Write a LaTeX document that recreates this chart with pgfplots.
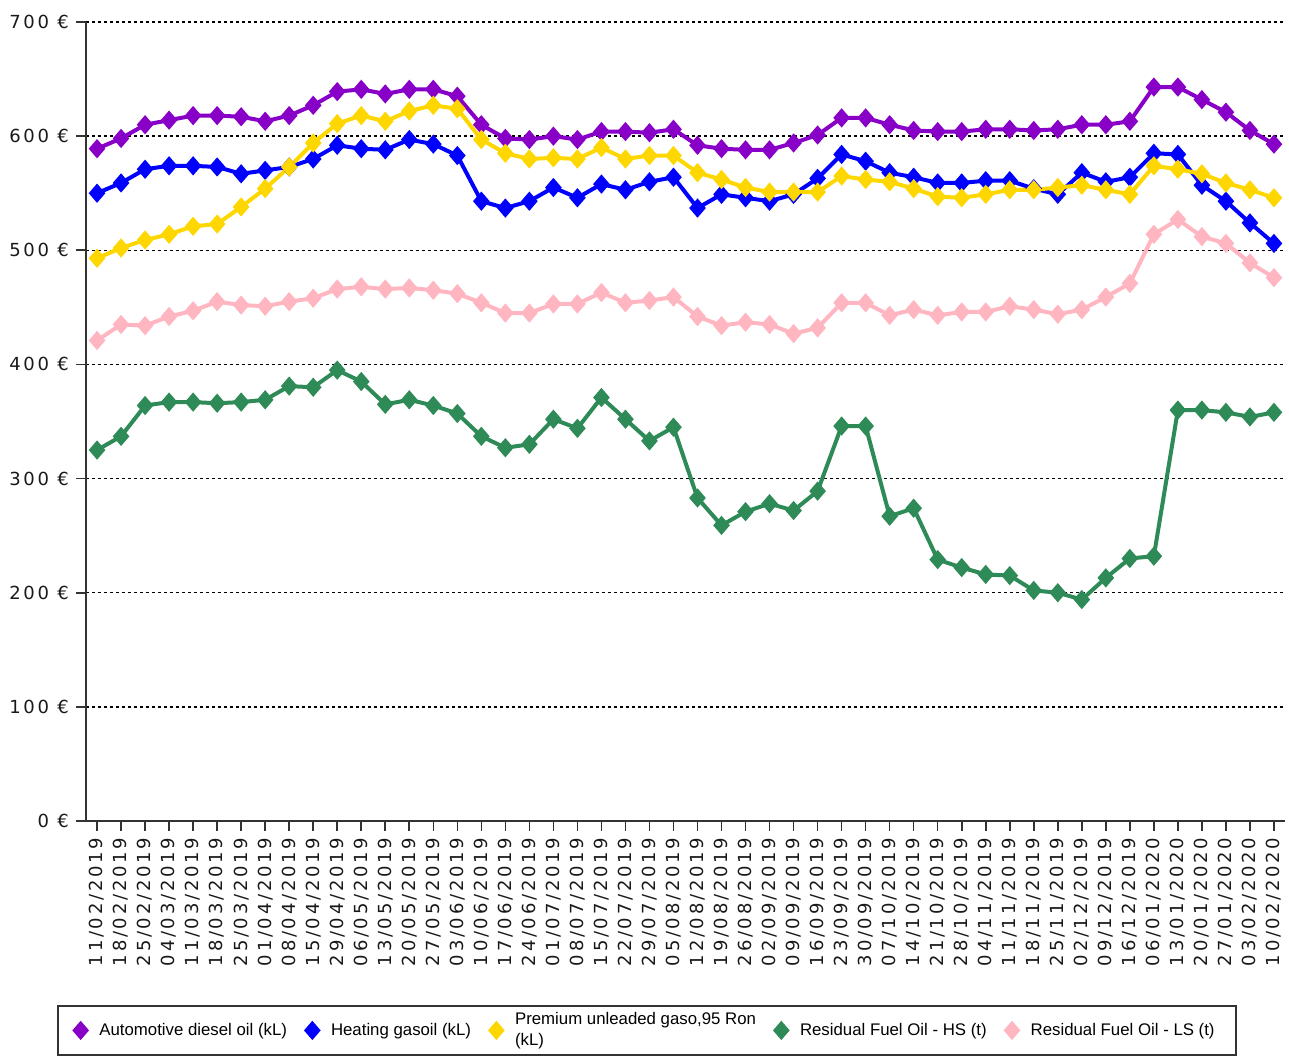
\documentclass[border=0pt]{standalone}
\usepackage{pgfplots}
\usepackage{pgfplotstable}
\pgfplotsset{compat=1.18}
\usepackage{fontspec}
\setmainfont{DejaVu Sans}
\newfontfamily\legfont{Liberation Sans}
\newfontfamily\tickfont[LetterSpace=15]{DejaVu Sans}
\definecolor{cDiesel}{RGB}{136,0,200}
\definecolor{cHeat}{RGB}{0,0,255}
\definecolor{cPrem}{RGB}{255,215,0}
\definecolor{cHS}{RGB}{46,139,87}
\definecolor{cLS}{RGB}{255,182,193}
\pgfplotstableread{
idx diesel heat prem hs ls
0 589 550 493 325 421
1 598 559 502 337 435
2 610 571 509 364 434
3 614 574 514 367 442
4 618 574 521 367 447
5 618 573 523 366 455
6 617 567 538 367 452
7 613 570 554 369 451
8 618 573 573 381 455
9 627 580 594 380 458
10 639 592 611 395 466
11 641 589 618 385 468
12 637 588 613 365 466
13 641 597 622 369 467
14 641 593 627 364 465
15 635 583 624 357 462
16 610 543 597 337 454
17 598 537 585 327 445
18 597 543 580 330 445
19 600 555 581 352 453
20 597 546 580 344 453
21 604 558 590 371 463
22 604 553 580 352 454
23 603 560 583 333 456
24 606 564 583 345 459
25 592 537 568 283 442
26 589 549 562 259 434
27 588 546 555 271 437
28 588 543 551 278 435
29 594 549 551 272 427
30 601 563 551 289 432
31 616 584 565 346 454
32 616 578 562 346 454
33 610 568 560 267 443
34 605 564 554 274 448
35 604 559 547 229 443
36 604 559 546 222 446
37 606 561 549 216 446
38 606 561 553 215 451
39 605 554 553 202 448
40 606 549 555 200 444
41 610 568 557 194 448
42 610 560 553 213 459
43 613 564 549 230 471
44 643 585 574 232 514
45 643 584 571 360 527
46 632 557 567 360 512
47 621 543 559 358 506
48 605 524 553 354 489
49 593 506 546 358 476
}\datatable
\begin{document}
\begin{tikzpicture}
\begin{axis}[
  width=599.5pt, height=399.5pt, scale only axis,
  xmin=-0.46, xmax=49.46, ymin=0, ymax=700,
  ytick={0,100,...,700},
  xtick={0,...,49},
  xticklabels={11/02/2019,18/02/2019,25/02/2019,04/03/2019,11/03/2019,18/03/2019,25/03/2019,01/04/2019,08/04/2019,15/04/2019,29/04/2019,06/05/2019,13/05/2019,20/05/2019,27/05/2019,03/06/2019,10/06/2019,17/06/2019,24/06/2019,01/07/2019,08/07/2019,15/07/2019,22/07/2019,29/07/2019,05/08/2019,12/08/2019,19/08/2019,26/08/2019,02/09/2019,09/09/2019,16/09/2019,23/09/2019,30/09/2019,07/10/2019,14/10/2019,21/10/2019,28/10/2019,04/11/2019,11/11/2019,18/11/2019,25/11/2019,02/12/2019,09/12/2019,16/12/2019,06/01/2020,13/01/2020,20/01/2020,27/01/2020,03/02/2020,10/02/2020},
  x tick label style={rotate=90, anchor=east, font=\tickfont\fontsize{9}{10}\selectfont, text=black!90},
  y tick label style={font=\tickfont\fontsize{9}{10}\selectfont, text=black!90},
  /pgf/number format/assume math mode=true,
  yticklabel={\pgfmathprintnumber{\tick}\ €},
  axis x line*=bottom, axis y line*=left,
  axis line style={line width=1pt, black!80, -},
  tick style={line width=0.8pt, black!80},
  major tick length=5pt, tick align=outside,
  ymajorgrids,
  major grid style={black, line width=0.7pt, dash pattern=on 1.5pt off 1.5pt},
  every axis plot/.append style={line width=2pt, mark=diamond*, mark size=3.3pt, mark options={solid, xscale=1.15}},
  legend columns=5,
  legend cell align=left,
  legend image code/.code={\draw[#1] plot coordinates {(0pt,0pt)};},
  legend style={at={(-0.0242,-0.2303)}, anchor=north west, draw=black!80, line width=1pt,
    font=\legfont\fontsize{8.4}{9}\selectfont, inner ysep=1pt, inner xsep=8.5pt,
    /tikz/every odd column/.append style={column sep=4.5pt},
    /tikz/every even column/.append style={column sep=7.8pt}},
]
\addplot[color=cDiesel] table[x=idx, y=diesel] {\datatable};
\addlegendentry{Automotive diesel oil (kL)}
\addplot[color=cHeat] table[x=idx, y=heat] {\datatable};
\addlegendentry{Heating gasoil (kL)}
\addplot[color=cPrem] table[x=idx, y=prem] {\datatable};
\addlegendentry{\shortstack[l]{Premium unleaded gaso,95 Ron\\(kL)}}
\addplot[color=cHS] table[x=idx, y=hs] {\datatable};
\addlegendentry{Residual Fuel Oil - HS (t)}
\addplot[color=cLS] table[x=idx, y=ls] {\datatable};
\addlegendentry{Residual Fuel Oil - LS (t)}
\end{axis}
\path (current axis.south west) +(-43pt,-116pt);
\path (current axis.north east) +(2pt,11pt);
\end{tikzpicture}
\end{document}
